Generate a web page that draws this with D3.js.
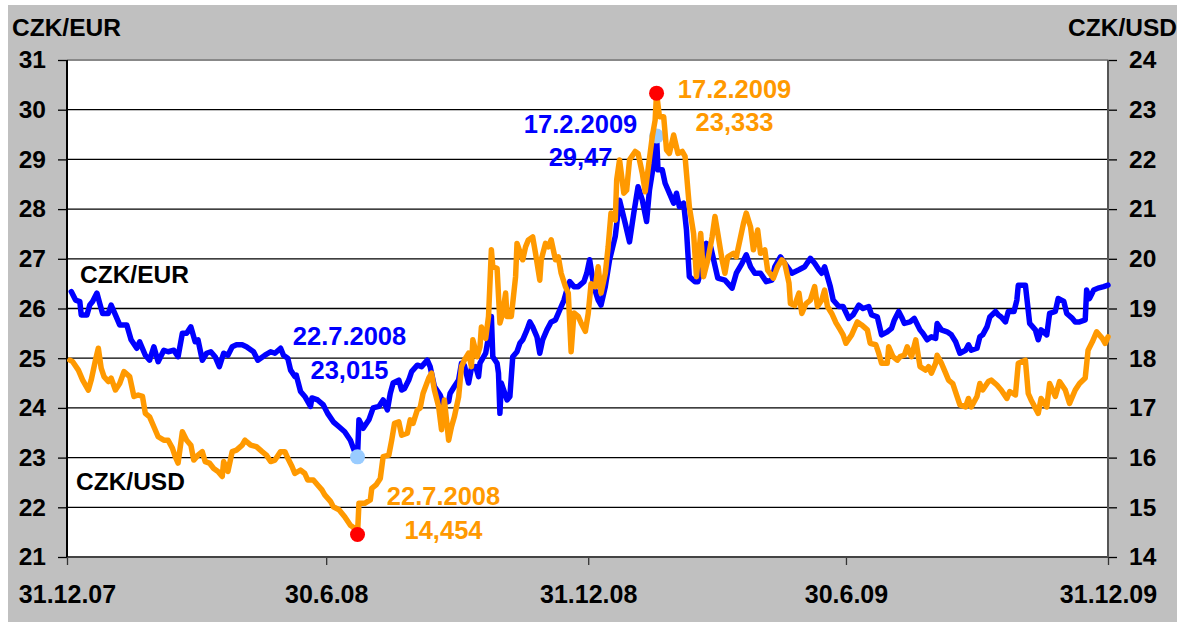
<!DOCTYPE html>
<html><head><meta charset="utf-8">
<script src="https://cdn.jsdelivr.net/npm/d3@7"></script>
<style>
body{margin:0;background:#fff}
svg{display:block}
text{font-family:"Liberation Sans",Arial,sans-serif;font-weight:bold}
</style>
</head><body>
<svg id="c" width="1177" height="625"></svg>
<script>
// ---------- data ----------
const xTickDates  = ["2007-12-31","2008-06-30","2008-12-31","2009-06-30","2009-12-31"];
const xTickLabels = ["31.12.07","30.6.08","31.12.08","30.6.09","31.12.09"];
const eurTicks = [21,22,23,24,25,26,27,28,29,30,31];
const usdTicks = [14,15,16,17,18,19,20,21,22,23,24];
const seriesNames = ["CZK/EUR","CZK/USD"];

const eurSeries = [
["2008-01-03",26.34],["2008-01-06",26.17],["2008-01-09",26.14],["2008-01-10",25.87],["2008-01-14",25.87],
["2008-01-16",26.07],["2008-01-18",26.14],["2008-01-21",26.31],["2008-01-23",26.10],["2008-01-25",25.90],
["2008-01-29",25.90],["2008-01-31",26.07],["2008-02-03",25.87],["2008-02-06",25.67],["2008-02-11",25.67],
["2008-02-14",25.37],["2008-02-18",25.20],["2008-02-20",25.33],["2008-02-24",25.06],["2008-02-27",24.96],
["2008-03-01",25.23],["2008-03-04",24.93],["2008-03-08",25.16],["2008-03-11",25.13],["2008-03-15",25.16],
["2008-03-18",25.03],["2008-03-21",25.50],["2008-03-24",25.50],["2008-03-27",25.63],["2008-03-30",25.33],
["2008-04-01",25.37],["2008-04-04",24.96],["2008-04-07",25.10],["2008-04-10",25.13],["2008-04-13",25.03],
["2008-04-16",24.83],["2008-04-19",25.10],["2008-04-22",25.06],["2008-04-25",25.23],["2008-04-28",25.27],
["2008-05-02",25.27],["2008-05-05",25.23],["2008-05-10",25.13],["2008-05-13",24.96],["2008-05-18",25.06],
["2008-05-22",25.13],["2008-05-25",25.10],["2008-05-29",25.20],["2008-05-31",25.06],["2008-06-03",25.00],
["2008-06-05",24.76],["2008-06-08",24.63],["2008-06-09",24.66],["2008-06-12",24.33],["2008-06-15",24.23],
["2008-06-19",24.03],["2008-06-20",24.20],["2008-06-24",24.16],["2008-06-28",24.06],["2008-07-01",23.89],
["2008-07-05",23.72],["2008-07-09",23.62],["2008-07-13",23.52],["2008-07-17",23.35],["2008-07-20",23.12],
["2008-07-22",23.015],["2008-07-23",23.76],["2008-07-26",23.59],["2008-07-30",23.76],["2008-08-02",24.00],
["2008-08-06",24.03],["2008-08-09",24.16],["2008-08-12",23.96],["2008-08-14",24.29],["2008-08-16",24.50],
["2008-08-20",24.56],["2008-08-22",24.36],["2008-08-24",24.39],["2008-08-27",24.56],["2008-08-29",24.73],
["2008-09-02",24.86],["2008-09-05",24.83],["2008-09-09",24.96],["2008-09-11",24.83],["2008-09-14",24.43],
["2008-09-18",24.26],["2008-09-20",24.09],["2008-09-24",24.13],["2008-09-25",24.29],["2008-09-28",24.43],
["2008-10-01",24.56],["2008-10-03",24.90],["2008-10-05",24.86],["2008-10-08",24.50],["2008-10-10",24.80],
["2008-10-13",24.83],["2008-10-15",24.63],["2008-10-16",24.90],["2008-10-20",25.10],["2008-10-22",25.43],
["2008-10-24",25.84],["2008-10-25",25.03],["2008-10-28",24.90],["2008-10-29",24.70],["2008-10-30",23.89],
["2008-10-31",24.50],["2008-11-04",24.16],["2008-11-06",24.23],["2008-11-08",25.03],["2008-11-11",25.13],
["2008-11-13",25.30],["2008-11-15",25.37],["2008-11-18",25.57],["2008-11-20",25.73],["2008-11-22",25.63],
["2008-11-25",25.43],["2008-11-27",25.10],["2008-11-29",25.37],["2008-12-02",25.57],["2008-12-05",25.73],
["2008-12-08",25.77],["2008-12-11",25.97],["2008-12-14",26.17],["2008-12-16",26.37],["2008-12-18",26.54],
["2008-12-21",26.44],["2008-12-24",26.44],["2008-12-28",26.54],["2008-12-30",26.71],["2009-01-01",26.98],
["2009-01-04",26.44],["2009-01-07",26.17],["2009-01-09",26.07],["2009-01-12",26.44],["2009-01-15",26.98],
["2009-01-19",27.45],["2009-01-22",28.18],["2009-01-26",27.71],["2009-01-29",27.34],["2009-02-01",27.92],
["2009-02-04",28.45],["2009-02-07",28.18],["2009-02-10",27.75],["2009-02-12",28.38],["2009-02-15",28.92],
["2009-02-17",29.47],["2009-02-18",28.79],["2009-02-21",28.79],["2009-02-23",28.52],["2009-02-26",28.32],
["2009-03-01",28.12],["2009-03-03",28.32],["2009-03-05",28.05],["2009-03-08",28.12],["2009-03-10",27.58],
["2009-03-12",26.64],["2009-03-16",26.54],["2009-03-18",26.54],["2009-03-21",26.84],["2009-03-24",27.31],
["2009-03-27",27.24],["2009-04-01",26.61],["2009-04-06",26.57],["2009-04-11",26.41],["2009-04-14",26.71],
["2009-04-18",26.91],["2009-04-21",27.08],["2009-04-24",26.84],["2009-04-27",26.71],["2009-05-01",26.71],
["2009-05-05",26.54],["2009-05-09",26.57],["2009-05-11",26.84],["2009-05-15",27.04],["2009-05-18",26.91],
["2009-05-23",26.71],["2009-05-28",26.78],["2009-06-01",26.84],["2009-06-05",27.01],["2009-06-08",26.91],
["2009-06-11",26.78],["2009-06-13",26.71],["2009-06-15",26.84],["2009-06-19",26.44],["2009-06-21",26.17],
["2009-06-25",26.04],["2009-06-28",26.04],["2009-07-02",25.80],["2009-07-05",25.87],["2009-07-09",26.07],
["2009-07-12",26.00],["2009-07-16",26.04],["2009-07-18",25.87],["2009-07-22",25.83],["2009-07-25",25.47],
["2009-07-29",25.53],["2009-08-01",25.60],["2009-08-03",25.77],["2009-08-06",25.94],["2009-08-08",25.83],
["2009-08-10",25.70],["2009-08-14",25.73],["2009-08-17",25.80],["2009-08-21",25.57],["2009-08-23",25.50],
["2009-08-26",25.37],["2009-08-29",25.43],["2009-09-01",25.40],["2009-09-02",25.70],["2009-09-05",25.57],
["2009-09-09",25.53],["2009-09-12",25.47],["2009-09-15",25.33],["2009-09-18",25.10],["2009-09-22",25.16],
["2009-09-24",25.27],["2009-09-26",25.16],["2009-09-30",25.20],["2009-10-02",25.43],["2009-10-04",25.47],
["2009-10-07",25.63],["2009-10-09",25.83],["2009-10-13",25.94],["2009-10-15",25.87],["2009-10-17",25.83],
["2009-10-20",25.73],["2009-10-22",25.94],["2009-10-26",25.94],["2009-10-28",26.17],["2009-10-29",26.47],
["2009-11-03",26.47],["2009-11-06",25.70],["2009-11-10",25.57],["2009-11-12",25.37],["2009-11-14",25.57],
["2009-11-18",25.47],["2009-11-20",25.90],["2009-11-24",25.94],["2009-11-26",26.20],["2009-11-30",26.14],
["2009-12-02",25.90],["2009-12-06",25.80],["2009-12-08",25.73],["2009-12-11",25.73],["2009-12-15",25.77],
["2009-12-16",26.37],["2009-12-18",26.20],["2009-12-21",26.37],["2009-12-24",26.41],["2009-12-28",26.44],
["2009-12-31",26.47]
];

const usdSeries = [
["2008-01-02",17.96],["2008-01-04",17.93],["2008-01-08",17.76],["2008-01-11",17.56],["2008-01-15",17.36],
["2008-01-17",17.56],["2008-01-20",17.96],["2008-01-22",18.20],["2008-01-24",17.80],["2008-01-26",17.63],
["2008-01-29",17.53],["2008-01-31",17.60],["2008-02-03",17.36],["2008-02-06",17.49],["2008-02-09",17.73],
["2008-02-13",17.63],["2008-02-16",17.23],["2008-02-19",17.26],["2008-02-22",17.23],["2008-02-24",16.89],
["2008-02-27",16.82],["2008-03-01",16.62],["2008-03-04",16.42],["2008-03-08",16.35],["2008-03-11",16.35],
["2008-03-14",16.19],["2008-03-16",16.02],["2008-03-18",15.89],["2008-03-21",16.52],["2008-03-24",16.35],
["2008-03-27",16.25],["2008-03-29",15.95],["2008-04-01",16.05],["2008-04-04",16.12],["2008-04-06",15.92],
["2008-04-09",15.89],["2008-04-12",15.78],["2008-04-15",15.72],["2008-04-18",15.62],["2008-04-19",15.92],
["2008-04-22",15.72],["2008-04-25",16.12],["2008-04-28",16.15],["2008-05-02",16.25],["2008-05-04",16.35],
["2008-05-08",16.25],["2008-05-12",16.22],["2008-05-16",16.12],["2008-05-19",16.05],["2008-05-22",15.92],
["2008-05-25",15.95],["2008-05-29",16.12],["2008-06-01",16.12],["2008-06-03",15.99],["2008-06-06",15.82],
["2008-06-08",15.68],["2008-06-12",15.75],["2008-06-15",15.68],["2008-06-17",15.55],["2008-06-21",15.55],
["2008-06-24",15.45],["2008-06-27",15.35],["2008-06-29",15.25],["2008-07-03",15.12],["2008-07-05",15.01],
["2008-07-09",14.95],["2008-07-13",14.81],["2008-07-17",14.64],["2008-07-20",14.58],["2008-07-22",14.454],
["2008-07-23",15.08],["2008-07-27",15.08],["2008-07-31",15.15],["2008-08-01",15.38],["2008-08-04",15.45],
["2008-08-07",15.58],["2008-08-09",16.02],["2008-08-13",16.05],["2008-08-15",16.35],["2008-08-17",16.69],
["2008-08-20",16.72],["2008-08-22",16.45],["2008-08-26",16.49],["2008-08-28",16.76],["2008-08-30",16.69],
["2008-09-02",16.96],["2008-09-04",17.00],["2008-09-06",17.29],["2008-09-10",17.60],["2008-09-12",17.70],
["2008-09-14",17.36],["2008-09-17",17.02],["2008-09-19",16.56],["2008-09-21",17.16],["2008-09-24",16.35],
["2008-09-26",16.62],["2008-09-28",16.82],["2008-10-01",17.22],["2008-10-03",17.83],["2008-10-05",17.96],
["2008-10-08",18.10],["2008-10-10",17.83],["2008-10-11",18.37],["2008-10-14",18.03],["2008-10-16",18.23],
["2008-10-17",18.63],["2008-10-20",18.40],["2008-10-22",18.84],["2008-10-24",20.18],["2008-10-25",19.84],
["2008-10-28",19.81],["2008-10-30",18.71],["2008-11-01",18.91],["2008-11-03",19.31],["2008-11-04",18.84],
["2008-11-07",18.84],["2008-11-10",19.64],["2008-11-11",20.31],["2008-11-15",19.98],["2008-11-17",20.24],
["2008-11-19",20.38],["2008-11-22",20.44],["2008-11-24",20.11],["2008-11-27",19.57],["2008-11-28",19.98],
["2008-12-01",20.31],["2008-12-03",20.24],["2008-12-05",20.38],["2008-12-08",19.98],["2008-12-10",20.04],
["2008-12-12",19.71],["2008-12-15",19.44],["2008-12-17",19.31],["2008-12-19",18.13],["2008-12-21",18.91],
["2008-12-24",18.84],["2008-12-26",18.71],["2008-12-29",18.54],["2008-12-31",18.90],["2009-01-02",19.50],
["2009-01-05",19.44],["2009-01-07",19.84],["2009-01-09",19.31],["2009-01-12",19.71],["2009-01-14",20.24],
["2009-01-16",20.92],["2009-01-19",20.78],["2009-01-20",21.59],["2009-01-22",21.99],["2009-01-25",21.32],
["2009-01-27",21.38],["2009-01-29",21.99],["2009-02-02",22.16],["2009-02-04",22.12],["2009-02-07",21.72],
["2009-02-09",21.35],["2009-02-11",21.79],["2009-02-14",22.46],["2009-02-16",22.79],["2009-02-17",23.333],
["2009-02-19",22.86],["2009-02-22",22.86],["2009-02-24",22.19],["2009-02-26",22.12],["2009-03-01",22.49],
["2009-03-04",22.12],["2009-03-07",22.16],["2009-03-09",22.06],["2009-03-12",21.05],["2009-03-15",20.51],
["2009-03-17",19.64],["2009-03-20",20.51],["2009-03-22",19.64],["2009-03-25",19.98],["2009-03-28",20.44],
["2009-03-30",20.85],["2009-04-01",20.51],["2009-04-04",19.98],["2009-04-06",19.71],["2009-04-08",20.04],
["2009-04-12",20.11],["2009-04-14",20.04],["2009-04-17",20.44],["2009-04-19",20.71],["2009-04-21",20.92],
["2009-04-24",20.64],["2009-04-26",20.18],["2009-04-29",20.58],["2009-05-01",20.11],["2009-05-04",20.18],
["2009-05-06",19.77],["2009-05-10",19.61],["2009-05-13",19.84],["2009-05-16",19.98],["2009-05-18",19.91],
["2009-05-21",19.51],["2009-05-22",19.10],["2009-05-25",19.06],["2009-05-28",19.31],["2009-05-30",18.90],
["2009-06-02",19.10],["2009-06-05",19.17],["2009-06-08",19.44],["2009-06-10",19.04],["2009-06-13",19.17],
["2009-06-15",19.37],["2009-06-17",19.04],["2009-06-20",18.90],["2009-06-23",18.71],["2009-06-26",18.57],
["2009-06-28",18.47],["2009-06-30",18.30],["2009-07-04",18.47],["2009-07-08",18.73],["2009-07-11",18.67],
["2009-07-15",18.57],["2009-07-17",18.30],["2009-07-21",18.27],["2009-07-23",18.10],["2009-07-25",17.90],
["2009-07-29",17.90],["2009-07-30",18.23],["2009-08-02",18.03],["2009-08-05",17.96],["2009-08-07",18.03],
["2009-08-10",18.06],["2009-08-12",18.23],["2009-08-15",18.03],["2009-08-18",18.37],["2009-08-21",17.83],
["2009-08-25",17.76],["2009-08-27",17.83],["2009-08-29",17.70],["2009-09-01",17.90],["2009-09-02",18.06],
["2009-09-05",17.90],["2009-09-08",17.70],["2009-09-10",17.56],["2009-09-13",17.49],["2009-09-16",17.23],
["2009-09-18",17.06],["2009-09-22",17.02],["2009-09-24",17.19],["2009-09-26",17.02],["2009-09-30",17.23],
["2009-10-02",17.49],["2009-10-04",17.36],["2009-10-08",17.53],["2009-10-10",17.56],["2009-10-14",17.46],
["2009-10-17",17.36],["2009-10-21",17.19],["2009-10-23",17.33],["2009-10-27",17.26],["2009-10-29",17.90],
["2009-11-03",17.96],["2009-11-05",17.29],["2009-11-07",17.16],["2009-11-12",16.89],["2009-11-14",17.19],
["2009-11-18",17.02],["2009-11-20",17.49],["2009-11-24",17.23],["2009-11-27",17.53],["2009-12-01",17.36],
["2009-12-04",17.09],["2009-12-08",17.36],["2009-12-11",17.49],["2009-12-15",17.60],["2009-12-17",18.16],
["2009-12-20",18.33],["2009-12-23",18.53],["2009-12-27",18.40],["2009-12-29",18.30],["2009-12-31",18.43]
];

const eurMarkers = [["2008-07-22",23.015,"22.7.2008","23,015"],["2009-02-17",29.47,"17.2.2009","29,47"]];
const usdMarkers = [["2008-07-22",14.454,"22.7.2008","14,454"],["2009-02-17",23.333,"17.2.2009","23,333"]];

// ---------- layout ----------
const W = 1177, H = 625;
const M = {left:67, top:60, right:1108, bottom:557};
const parse = d3.timeParse("%Y-%m-%d");
const svg = d3.select("#c");

const x = d3.scaleTime().domain([parse(xTickDates[0]), parse(xTickDates[xTickDates.length-1])]).range([M.left, M.right]);
const yE = d3.scaleLinear().domain([21,31]).range([M.bottom, M.top]);
const yU = d3.scaleLinear().domain([14,24]).range([M.bottom, M.top]);

const BLUE = "#0000ff", ORANGE = "#ff9900";

svg.append("rect").attr("x",8).attr("y",5).attr("width",W-8).attr("height",617).attr("fill","#c0c0c0");
svg.append("rect").attr("x",M.left).attr("y",M.top).attr("width",M.right-M.left).attr("height",M.bottom-M.top).attr("fill","#fff");

const gL = svg.append("g").attr("transform",`translate(${M.left},0)`)
  .call(d3.axisLeft(yE).tickValues(eurTicks).tickSize(9).tickPadding(12).tickFormat(d3.format("d")));
gL.select(".domain").remove();
gL.selectAll(".tick line").attr("stroke","#000").attr("stroke-width",1.3);
gL.selectAll(".tick text").attr("font-size",24.5).attr("fill","#000");
svg.append("g").selectAll("line").data(eurTicks.slice(1,-1)).join("line")
  .attr("x1",M.left).attr("x2",M.right).attr("y1",d=>yE(d)).attr("y2",d=>yE(d))
  .attr("stroke","#000").attr("stroke-width",1.3);

const gR = svg.append("g").attr("transform",`translate(${M.right},0)`)
  .call(d3.axisRight(yU).tickValues(usdTicks).tickSize(9).tickPadding(12).tickFormat(d3.format("d")));
gR.select(".domain").remove();
gR.selectAll(".tick line").attr("stroke","#000").attr("stroke-width",1.3);
gR.selectAll(".tick text").attr("font-size",24.5).attr("fill","#000");

const gB = svg.append("g").attr("transform",`translate(0,${M.bottom})`)
  .call(d3.axisBottom(x).tickValues(xTickDates.map(parse)).tickSize(8).tickPadding(20)
        .tickFormat((d,i)=>xTickLabels[i]));
gB.select(".domain").remove();
gB.selectAll(".tick line").attr("stroke","#333").attr("stroke-width",1.3);
gB.selectAll(".tick text").attr("font-size",25).attr("fill","#000");

svg.append("line").attr("x1",M.left).attr("x2",M.right).attr("y1",M.top).attr("y2",M.top).attr("stroke","#888").attr("stroke-width",2);
svg.append("line").attr("x1",M.left).attr("x2",M.right).attr("y1",M.bottom).attr("y2",M.bottom).attr("stroke","#444").attr("stroke-width",2);
svg.append("line").attr("x1",M.left).attr("x2",M.left).attr("y1",M.top).attr("y2",M.bottom).attr("stroke","#000").attr("stroke-width",2);
svg.append("line").attr("x1",M.right).attr("x2",M.right).attr("y1",M.top).attr("y2",M.bottom).attr("stroke","#555").attr("stroke-width",2);

svg.append("text").attr("x",12).attr("y",36).attr("font-size",24.5).text(seriesNames[0]);
svg.append("text").attr("x",W).attr("y",36).attr("text-anchor","end").attr("font-size",24.5).text(seriesNames[1]);

const lineE = d3.line().x(d=>x(parse(d[0]))).y(d=>yE(d[1]));
const lineU = d3.line().x(d=>x(parse(d[0]))).y(d=>yU(d[1]));
svg.append("path").datum(eurSeries).attr("d",lineE).attr("fill","none").attr("stroke",BLUE)
  .attr("stroke-width",5.5).attr("stroke-linejoin","round").attr("stroke-linecap","round");
svg.selectAll("circle.e").data(eurMarkers).join("circle").attr("class","e")
  .attr("cx",d=>x(parse(d[0]))).attr("cy",d=>yE(d[1])).attr("r",7.5).attr("fill","#99ccff");
svg.append("path").datum(usdSeries).attr("d",lineU).attr("fill","none").attr("stroke",ORANGE)
  .attr("stroke-width",5.5).attr("stroke-linejoin","round").attr("stroke-linecap","round");
svg.selectAll("circle.u").data(usdMarkers).join("circle").attr("class","u")
  .attr("cx",d=>x(parse(d[0]))).attr("cy",d=>yU(d[1])).attr("r",7.5).attr("fill","#ff0000");

svg.append("text").attr("x",80).attr("y",283).attr("font-size",24.5).text(seriesNames[0]);
svg.append("text").attr("x",76).attr("y",490).attr("font-size",24.5).text(seriesNames[1]);

const eurOff = [[-8,-112,-78],[-76,-3,30]];
const usdOff = [[86,-29,5],[78,5,38]];
const noteSize = 25.5;
eurMarkers.forEach((m,i)=>{
  const px = x(parse(m[0])), py = yE(m[1]), o = eurOff[i];
  svg.append("text").attr("x",px+o[0]).attr("y",py+o[1]).attr("text-anchor","middle").attr("font-size",noteSize).attr("fill",BLUE).text(m[2]);
  svg.append("text").attr("x",px+o[0]).attr("y",py+o[2]).attr("text-anchor","middle").attr("font-size",noteSize).attr("fill",BLUE).text(m[3]);
});
usdMarkers.forEach((m,i)=>{
  const px = x(parse(m[0])), py = yU(m[1]), o = usdOff[i];
  svg.append("text").attr("x",px+o[0]).attr("y",py+o[1]).attr("text-anchor","middle").attr("font-size",noteSize).attr("fill",ORANGE).text(m[2]);
  svg.append("text").attr("x",px+o[0]).attr("y",py+o[2]).attr("text-anchor","middle").attr("font-size",noteSize).attr("fill",ORANGE).text(m[3]);
});
</script>
</body></html>
